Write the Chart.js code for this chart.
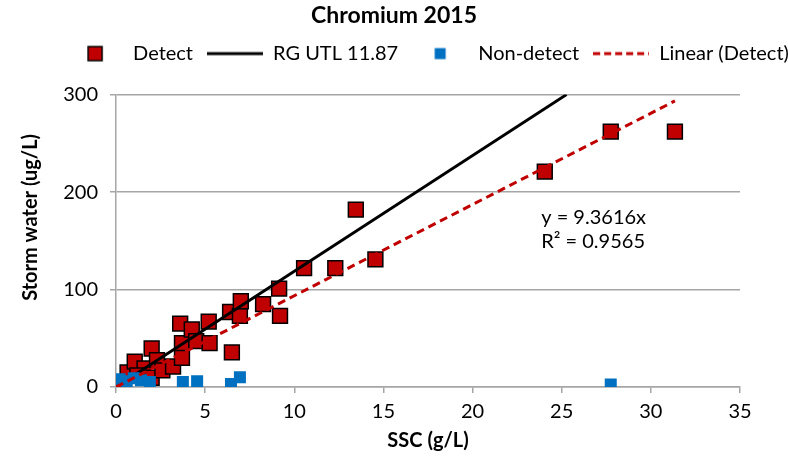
<!DOCTYPE html>
<html>
<head>
<meta charset="utf-8">
<script src="https://cdn.jsdelivr.net/npm/chart.js@4/dist/chart.umd.min.js"></script>
<style>
  html, body { margin: 0; padding: 0; background: #fff; }
  #wrap { width: 788px; height: 461px; }
</style>
</head>
<body>
<div id="wrap"><canvas id="c" width="788" height="461"></canvas></div>
<script>
// ---- data ----
const chartTitle = 'Chromium 2015';
const xTitle = 'SSC (g/L)';
const yTitle = 'Storm water (ug/L)';
const seriesNames = ['Detect', 'RG UTL 11.87', 'Non-detect', 'Linear (Detect)'];

const detectX = [0.05, 0.65, 1.05, 1.6, 2.0, 2.0, 2.3, 2.6, 1.2, 3.2, 3.7, 3.6, 3.7, 4.25, 4.5, 5.2, 5.25, 6.4, 6.5, 6.95, 7.0, 8.25, 9.15, 9.2, 10.55, 12.3, 13.45, 14.55, 24.05, 27.75, 31.35];
const detectY = [3, 15, 26, 19, 9.5, 39.5, 27.5, 17, 12, 21, 30, 65, 45, 59, 47, 67, 45, 77, 35.5, 73, 88, 85, 101, 73, 122, 122, 182, 131, 221, 262, 262];

const nonDetectX = [0.2, 0.6, 1.0, 1.4, 1.9, 3.75, 4.55, 6.45, 6.95, 27.75];
const nonDetectY = [8, 6, 9, 7, 5, 5, 6, 3, 10, 2.5];

const utlX = [0, 25.27];
const utlY = [0, 300];

const trendX = [0, 31.35];
const trendY = [0, 293.5];

const eqLines = ['y = 9.3616x', 'R\u00B2 = 0.9565'];
const eqAnchorX = 23.85;
const eqAnchorY = [174, 149.5];

const xTicks = [0, 5, 10, 15, 20, 25, 30, 35];
const yTicks = [0, 100, 200, 300];

// ---- styling ----
const RED = '#C00000';
const BLUE = '#0070C0';
const GRID = '#A6A6A6';
const FONT = 'Lato, "Liberation Sans", sans-serif';

function pts(xs, ys) { return xs.map((x, i) => ({ x: x, y: ys[i] })); }

function legendIcon(kind) {
  const c = document.createElement('canvas');
  c.width = 56; c.height = 20;
  const g = c.getContext('2d');
  if (kind === 'detect') {
    g.fillStyle = RED; g.fillRect(21, 3, 14, 14);
    g.strokeStyle = '#000'; g.lineWidth = 1.5; g.strokeRect(21, 3, 14, 14);
  } else if (kind === 'nondetect') {
    g.fillStyle = BLUE; g.fillRect(22.5, 4.5, 11, 11);
  } else if (kind === 'utl') {
    g.strokeStyle = '#000'; g.lineWidth = 3;
    g.beginPath(); g.moveTo(0, 10); g.lineTo(56, 10); g.stroke();
  } else {
    g.strokeStyle = RED; g.lineWidth = 3; g.setLineDash([7, 4]);
    g.beginPath(); g.moveTo(0, 10); g.lineTo(56, 10); g.stroke();
  }
  return c;
}
const icons = [legendIcon('detect'), legendIcon('utl'), legendIcon('nondetect'), legendIcon('trend')];

const extras = {
  id: 'extras',
  afterLayout(chart) {
    chart.legend.left += 34;
    chart.legend.right += 34;
  },
  afterDatasetsDraw(chart) {
    const ctx = chart.ctx;
    const xs = chart.scales.x, ys = chart.scales.y;
    ctx.save();
    ctx.fillStyle = '#000';
    ctx.font = '20px ' + FONT;
    ctx.textAlign = 'left';
    ctx.textBaseline = 'middle';
    eqLines.forEach((t, i) => ctx.fillText(t, xs.getPixelForValue(eqAnchorX), ys.getPixelForValue(eqAnchorY[i])));
    ctx.restore();
  },
  afterDraw(chart) {
    const ctx = chart.ctx;
    const a = chart.chartArea;
    ctx.save();
    ctx.translate(31, a.top + (a.bottom - a.top) * 0.42);
    ctx.rotate(-Math.PI / 2);
    ctx.fillStyle = '#000';
    ctx.font = 'bold 20px ' + FONT;
    ctx.textAlign = 'center';
    ctx.textBaseline = 'middle';
    ctx.fillText(yTitle, 0, 0);
    ctx.restore();
  }
};

new Chart(document.getElementById('c'), {
  type: 'scatter',
  data: {
    datasets: [
      {
        label: seriesNames[0], data: pts(detectX, detectY), order: 3,
        pointStyle: 'rect', pointRadius: 10.5, backgroundColor: RED, borderColor: '#000', borderWidth: 1.5
      },
      {
        label: seriesNames[1], data: pts(utlX, utlY), order: 2, showLine: true,
        pointRadius: 0, borderColor: '#000', borderWidth: 3
      },
      {
        label: seriesNames[2], data: pts(nonDetectX, nonDetectY), order: 1,
        pointStyle: 'rect', pointRadius: 8.5, backgroundColor: BLUE, borderColor: BLUE, borderWidth: 0
      },
      {
        label: seriesNames[3], data: pts(trendX, trendY), order: 0, showLine: true,
        pointRadius: 0, borderColor: RED, borderWidth: 3, borderDash: [8, 5]
      }
    ]
  },
  options: {
    responsive: false,
    animation: false,
    events: [],
    layout: { padding: 0 },
    plugins: {
      title: {
        display: true, text: chartTitle, color: '#000',
        font: { family: FONT, size: 23, weight: 'bold' },
        padding: { top: 2, bottom: 0 }
      },
      subtitle: {
        display: true, text: '', weight: 500,
        font: { size: 10, lineHeight: 1 },
        padding: { top: 0, bottom: 11 }
      },
      legend: {
        display: true, position: 'top',
        labels: {
          usePointStyle: true, pointStyleWidth: 56, padding: 14, color: '#000',
          font: { family: FONT, size: 20 },
          generateLabels(chart) {
            return chart.data.datasets.map((d, i) => ({
              text: d.label, pointStyle: icons[i], fillStyle: 'rgba(0,0,0,0)',
              strokeStyle: 'rgba(0,0,0,0)', lineWidth: 0, datasetIndex: i, hidden: false, fontColor: '#000'
            }));
          }
        }
      },
      tooltip: { enabled: false }
    },
    scales: {
      x: {
        type: 'linear', min: 0, max: 35,
        afterBuildTicks(s) { s.ticks = xTicks.map(v => ({ value: v })); },
        afterFit(s) { s.height = 74; },
        grid: { drawOnChartArea: false, drawTicks: true, tickLength: 6, color: GRID, lineWidth: 1.5 },
        border: { color: GRID, width: 1.5 },
        ticks: { color: '#000', padding: 7, font: { family: FONT, size: 20 }, maxRotation: 0 },
        title: { display: true, text: xTitle, color: '#000', font: { family: FONT, size: 20, weight: 'bold' }, padding: { top: 0, bottom: 8 } }
      },
      y: {
        type: 'linear', min: 0, max: 300,
        afterBuildTicks(s) { s.ticks = yTicks.map(v => ({ value: v })); },
        afterFit(s) { s.width = 116; },
        grid: { drawOnChartArea: true, drawTicks: true, tickLength: 6, color: GRID, lineWidth: 1.5 },
        border: { color: GRID, width: 1.5 },
        ticks: { color: '#000', padding: 12, font: { family: FONT, size: 20 } }
      },
      yRight: {
        type: 'linear', position: 'right', min: 0, max: 300,
        afterFit(s) { s.width = 48; },
        grid: { display: false, drawOnChartArea: false },
        border: { display: false },
        ticks: { display: false }
      }
    }
  },
  plugins: [extras]
});
</script>
</body>
</html>
